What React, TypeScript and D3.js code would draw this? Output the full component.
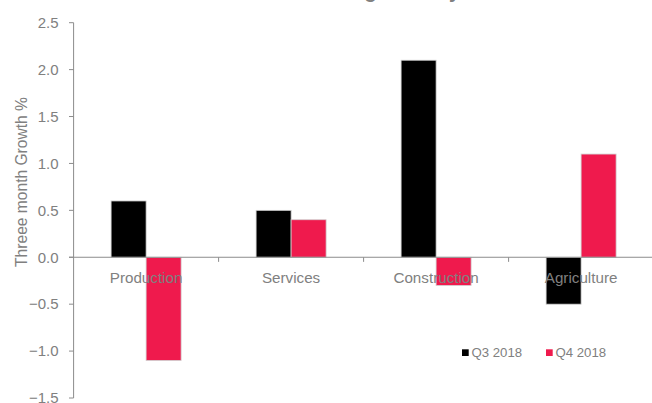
import React from "react";
import * as d3 from "d3";

const categories = ["Production", "Services", "Construction", "Agriculture"];
const seriesNames = ["Q3 2018", "Q4 2018"];
const q3Values = [0.6, 0.5, 2.1, -0.5];
const q4Values = [-1.1, 0.4, -0.3, 1.1];
const yTicks = [2.5, 2.0, 1.5, 1.0, 0.5, 0.0, -0.5, -1.0, -1.5];
const colors = ["#000000", "#EF1A4D"];
const titleText = "GDP growth by sector";
const yTitle = "Threee month Growth %";

const W = 652;
const H = 403;
const left = 73.6;
const step = 145;
const yTop = 22.7;
const yBottom = 398;
const textGray = "#808080";
const axisGray = "#8c8c8c";
const font = "'Liberation Sans', Arial, sans-serif";

export default function App() {
  const x0 = d3
    .scaleBand<string>()
    .domain(categories)
    .range([left, left + step * categories.length])
    .padding(0);
  const x1 = d3
    .scaleBand<string>()
    .domain(seriesNames)
    .range([37.5, 107.5])
    .padding(0);
  const y = d3.scaleLinear().domain([-1.5, 2.5]).range([yBottom, yTop]);
  const series = [q3Values, q4Values];
  const y0 = y(0);

  return (
    <svg
      width={W}
      height={H}
      style={{ position: "absolute", left: 0, top: 0, background: "#fff" }}
      fontFamily={font}
    >
      <text x={316} y={-2.5} fontSize={20} fill={textGray} fontWeight="bold">
        {titleText}
      </text>
      {/* bars */}
      {categories.map((c, i) =>
        series.map((vals, s) => {
          const v = vals[i];
          const bx = (x0(c) as number) + (x1(seriesNames[s]) as number);
          const top = Math.min(y(v), y0);
          const h = Math.abs(y(v) - y0);
          return (
            <rect
              key={c + s}
              x={bx}
              y={top}
              width={x1.bandwidth()}
              height={h}
              fill={colors[s]}
              stroke="#d0d0d0"
              strokeWidth={0.8}
            />
          );
        })
      )}
      {/* y axis */}
      <line x1={left} x2={left} y1={yTop} y2={yBottom} stroke={axisGray} strokeWidth={1} />
      {yTicks.map((t) => (
        <g key={t}>
          <line x1={left - 4.6} x2={left} y1={y(t)} y2={y(t)} stroke={axisGray} strokeWidth={1} />
          <text
            x={58.5}
            y={y(t)}
            dy="0.35em"
            textAnchor="end"
            fontSize={15}
            fill={textGray}
          >
            {d3.format(".1f")(t)}
          </text>
        </g>
      ))}
      {/* x axis */}
      <line x1={left - 4.6} x2={left + step * 4} y1={y0} y2={y0} stroke={axisGray} strokeWidth={1} />
      {categories.slice(1).map((c) => (
        <line
          key={c}
          x1={x0(c) as number}
          x2={x0(c) as number}
          y1={y0}
          y2={y0 + 4.6}
          stroke={axisGray}
          strokeWidth={1}
        />
      ))}
      {categories.map((c) => (
        <text
          key={c}
          x={(x0(c) as number) + step / 2}
          y={283}
          textAnchor="middle"
          fontSize={15.2}
          fill={textGray}
        >
          {c}
        </text>
      ))}
      {/* y title */}
      <text
        transform={`translate(27,182) rotate(-90)`}
        textAnchor="middle"
        fontSize={15.6}
        fill={textGray}
      >
        {yTitle}
      </text>
      {/* legend */}
      {seriesNames.map((s, i) => {
        const lx = [462, 546][i];
        return (
          <g key={s}>
            <rect x={lx} y={349.3} width={6.7} height={6.7} fill={colors[i]} />
            <text x={lx + 9.5} y={356.5} fontSize={13.2} fill={textGray}>
              {s}
            </text>
          </g>
        );
      })}
    </svg>
  );
}
